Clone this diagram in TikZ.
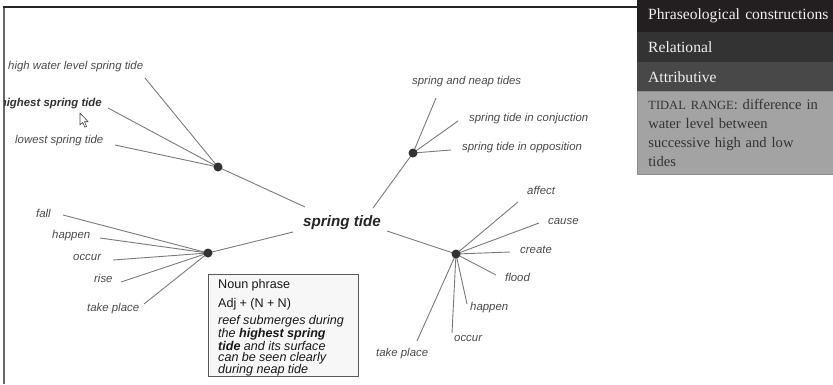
\documentclass[tikz,border=0pt]{standalone}
\usepackage{fontspec}
\setmainfont{Liberation Sans}
\newfontfamily\panelfont{Liberation Serif}

\definecolor{linkgray}{HTML}{7A7A7A}
\definecolor{hubgray}{HTML}{333333}
\definecolor{labelgray}{HTML}{4A4A4A}
\definecolor{rowA}{HTML}{231F20}
\definecolor{rowB}{HTML}{333333}
\definecolor{rowC}{HTML}{484848}
\definecolor{descbg}{HTML}{A3A3A3}
\definecolor{desctext}{HTML}{333333}

\begin{document}
\begin{tikzpicture}[x=1pt,y=-1pt,
  lbl/.style={font=\fontsize{11.4}{13}\selectfont\itshape, text=labelgray,
    inner sep=0pt, text height=8.4pt, text depth=2.4pt},
  boldlbl/.style={lbl, font=\fontsize{11.4}{13}\selectfont\bfseries\itshape, text=hubgray},
  link/.style={draw=linkgray, line width=0.9pt},
  hub/.style={circle, fill=hubgray, minimum size=9pt, inner sep=0pt},
  row/.style={anchor=north west, minimum width=196pt, text width=190pt,
    inner xsep=11pt, inner ysep=0pt, align=left, text=white!94!black,
    font=\panelfont\fontsize{15.6}{18}\selectfont},
  npbox/.style={draw=black!65, fill=white!97!black, line width=0.9pt,
    minimum width=150pt, minimum height=102pt, inner sep=0pt},
]
\useasboundingbox (0,0) rectangle (833,384);

% window frame
\draw[black!60, line width=2pt] (3.5,7) -- (3.5,384);
\draw[black!85, line width=1.3pt] (2.5,7) -- (637,7);

% ---------- word graph ----------
\begin{scope}
\clip (4.5,8) rectangle (637,384);

\node[font=\fontsize{15.2}{17}\selectfont\bfseries\itshape, text=black!85, inner sep=0pt]
  (st) at (342,223) {spring tide};

% hubs
\coordinate (h1) at (218,167);
\coordinate (h2) at (413,153);
\coordinate (h3) at (208,253);
\coordinate (h4) at (456,254);

% inner ends towards the head term
\coordinate (c1) at (305,207);
\coordinate (c2) at (373,208);
\coordinate (c3) at (293,232);
\coordinate (c4) at (387,231);

% outer ends
\coordinate (a1) at (145,78);
\coordinate (a2) at (108,108);
\coordinate (a3) at (115,145);
\coordinate (b1) at (436,98);
\coordinate (b2) at (458,121);
\coordinate (b3) at (451,150);
\coordinate (d1) at (63,215);
\coordinate (d2) at (100,238);
\coordinate (d3) at (113,260);
\coordinate (d4) at (121,282);
\coordinate (d5) at (144,304);
\coordinate (e1) at (518,202);
\coordinate (e2) at (539,223);
\coordinate (e3) at (510,252);
\coordinate (e4) at (496,275);
\coordinate (e5) at (467,304);
\coordinate (e6) at (452,333);
\coordinate (e7) at (417,341);

% labels
\node[lbl, anchor=west] (la1) at (8,66) {high water level spring tide};
\node[boldlbl, anchor=east] (la2) at (102,103) {highest spring tide};
\node[lbl, anchor=west] (la3) at (15,140) {lowest spring tide};

\node[lbl, anchor=west] (lb1) at (412,81) {spring and neap tides};
\node[lbl, anchor=west] (lb2) at (469,118) {spring tide in conjuction};
\node[lbl, anchor=west] (lb3) at (462,147) {spring tide in opposition};

\node[lbl, anchor=west] (ld1) at (36,214) {fall};
\node[lbl, anchor=west] (ld2) at (52,235) {happen};
\node[lbl, anchor=west] (ld3) at (73,257) {occur};
\node[lbl, anchor=west] (ld4) at (94,279) {rise};
\node[lbl, anchor=west] (ld5) at (87,308) {take place};

\node[lbl, anchor=west] (le1) at (527,191) {affect};
\node[lbl, anchor=west] (le2) at (548,221) {cause};
\node[lbl, anchor=west] (le3) at (520,250) {create};
\node[lbl, anchor=west] (le4) at (505,278) {flood};
\node[lbl, anchor=west] (le5) at (470,307) {happen};
\node[lbl, anchor=west] (le6) at (454,338) {occur};
\node[lbl, anchor=west] (le7) at (376,353) {take place};

% connectors
\draw[link] (h1) -- (c1);
\draw[link] (h2) -- (c2);
\draw[link] (h3) -- (c3);
\draw[link] (h4) -- (c4);
\foreach \p in {a1,a2,a3} \draw[link] (h1) -- (\p);
\foreach \p in {b1,b2,b3} \draw[link] (h2) -- (\p);
\foreach \p in {d1,d2,d3,d4,d5} \draw[link] (h3) -- (\p);
\foreach \p in {e1,e2,e3,e4,e5,e6,e7} \draw[link] (h4) -- (\p);

\node[hub] (n1) at (h1) {};
\node[hub] (n2) at (h2) {};
\node[hub] (n3) at (h3) {};
\node[hub] (n4) at (h4) {};

% mouse pointer
\draw[black!75, fill=white, line width=0.6pt, line join=round]
  (80,113) -- (80,125) -- (82.7,122.4) -- (84.8,127.2) -- (86.6,126.4)
  -- (84.5,121.7) -- (88.2,121.7) -- cycle;
\end{scope}

% ---------- example box ----------
\node[npbox, anchor=north west] (np) at (208,274) {};
\node[anchor=north west, inner sep=0pt, text width=138pt, align=left, text=black!90] (nptxt)
  at ([xshift=10pt,yshift=-5pt]np.north west)
  {\fontsize{12.6}{19}\selectfont Noun phrase\\Adj + (N + N)\par
   \vspace{4.5pt}%
   \fontsize{12.6}{11}\selectfont\itshape reef submerges during\\
   the \textbf{highest spring}\\
   \textbf{tide} and its surface\\
   can be seen clearly\\
   during neap tide\par};

% ---------- side panel ----------
\node[row, fill=rowA, minimum height=32pt] (r1) at (637,0) {Phraseological constructions};
\node[row, fill=rowB, minimum height=30pt] (r2) at (637,32) {Relational};
\node[row, fill=rowC, minimum height=29pt] (r3) at (637,62) {Attributive};
\node[anchor=north west, fill=descbg, draw=black!45, line width=0.8pt,
  minimum width=196pt, minimum height=83pt, text width=180pt,
  inner xsep=11pt, inner ysep=0pt, align=left, text=desctext,
  font=\panelfont\fontsize{14.6}{19}\selectfont] (desc) at (637,91)
  {{\fontsize{12.5}{19}\selectfont TIDAL RANGE}: difference in\\
   water level between\\
   successive high and low\\
   tides};
\end{tikzpicture}
\end{document}
